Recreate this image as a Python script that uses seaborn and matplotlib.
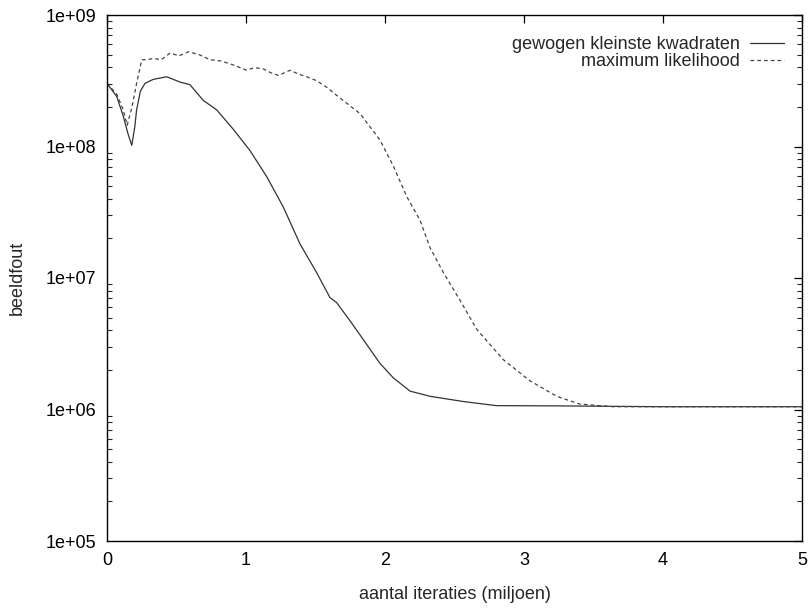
import numpy as np
import pandas as pd
import matplotlib
matplotlib.use("Agg")
import matplotlib.pyplot as plt
import matplotlib.ticker as mticker
import seaborn as sns

# --- data ---
x_wls = [0, 0.07, 0.117, 0.15, 0.178, 0.20, 0.213, 0.24, 0.273, 0.333, 0.43, 0.525,
         0.597, 0.693, 0.789, 0.909, 1.029, 1.149, 1.268, 1.388, 1.508, 1.604, 1.652,
         1.75, 1.844, 1.964, 2.06, 2.18, 2.324, 2.563, 2.80, 3.26, 4.0, 5.0]
y_wls = [3.02e8, 2.4e8, 1.7e8, 1.26e8, 1.02e8, 1.41e8, 1.9e8, 2.63e8, 3.02e8, 3.24e8,
         3.39e8, 3.09e8, 2.95e8, 2.24e8, 1.9e8, 1.35e8, 9.3e7, 5.9e7, 3.47e7, 1.82e7,
         1.1e7, 7.1e6, 6.5e6, 4.7e6, 3.4e6, 2.24e6, 1.74e6, 1.38e6, 1.26e6, 1.15e6,
         1.07e6, 1.065e6, 1.05e6, 1.05e6]

x_ml = [0, 0.07, 0.117, 0.145, 0.18, 0.213, 0.25, 0.29, 0.333, 0.39, 0.453, 0.52,
        0.585, 0.66, 0.741, 0.82, 0.909, 1.005, 1.06, 1.125, 1.18, 1.233, 1.317, 1.38,
        1.437, 1.51, 1.58, 1.676, 1.82, 1.964, 2.06, 2.156, 2.252, 2.324, 2.42, 2.54,
        2.66, 2.85, 3.04, 3.235, 3.40, 3.64, 4.0, 5.0]
y_ml = [3.02e8, 2.5e8, 1.9e8, 1.45e8, 2.0e8, 3.02e8, 4.57e8, 4.57e8, 4.68e8, 4.57e8,
        5.13e8, 4.9e8, 5.25e8, 5.01e8, 4.57e8, 4.47e8, 4.17e8, 3.8e8, 3.98e8, 3.89e8,
        3.63e8, 3.47e8, 3.8e8, 3.55e8, 3.39e8, 3.16e8, 2.82e8, 2.34e8, 1.78e8, 1.12e8,
        7.1e7, 4.17e7, 2.75e7, 1.7e7, 1.1e7, 6.76e6, 4.07e6, 2.4e6, 1.66e6, 1.26e6,
        1.1e6, 1.05e6, 1.05e6, 1.05e6]

label_wls = "gewogen kleinste kwadraten"
label_ml = "maximum likelihood"
x_label = "aantal iteraties (miljoen)"
y_label = "beeldfout"

df_wls = pd.DataFrame({"x": x_wls, "y": y_wls})
df_ml = pd.DataFrame({"x": x_ml, "y": y_ml})

sns.set_style("white")
plt.rcParams["font.family"] = ["Liberation Sans", "DejaVu Sans"]
plt.rcParams["font.size"] = 13

fig = plt.figure(figsize=(8.08, 6.11), dpi=100)
ax = fig.add_axes([107 / 808, 70 / 611, 695 / 808, 526 / 611])

sns.lineplot(data=df_wls, x="x", y="y", ax=ax, color="#333333", lw=0.9,
             label=label_wls, estimator=None, sort=False)
sns.lineplot(data=df_ml, x="x", y="y", ax=ax, color="#444444", lw=0.9,
             linestyle=(0, (3.0, 2.4)), label=label_ml, estimator=None, sort=False)

ax.set_yscale("log")
ax.set_xlim(0, 5)
ax.set_ylim(1e5, 1e9)
ax.set_xticks([0, 1, 2, 3, 4, 5])
ax.xaxis.set_major_formatter(mticker.FormatStrFormatter("%d"))
ax.yaxis.set_major_locator(mticker.FixedLocator([1e5, 1e6, 1e7, 1e8, 1e9]))
ax.yaxis.set_major_formatter(mticker.FuncFormatter(
    lambda v, p: "1e+%02d" % int(round(np.log10(v)))))
ax.yaxis.set_minor_locator(mticker.LogLocator(base=10, subs=np.arange(2, 10), numticks=20))
ax.yaxis.set_minor_formatter(mticker.NullFormatter())

ax.tick_params(which="major", direction="in", length=6, width=0.9, top=True,
               right=True, labelsize=13, pad=8, colors="black")
ax.tick_params(which="minor", direction="in", length=3.5, width=0.8, top=False,
               right=True, left=True)
for s in ax.spines.values():
    s.set_visible(True)
    s.set_color("black")
    s.set_linewidth(1.0)

ax.set_xlabel(x_label, fontsize=13, labelpad=12)
ax.set_ylabel(y_label, fontsize=13, labelpad=14)

ax.legend(loc="upper right", frameon=False, markerfirst=False, fontsize=13,
          handlelength=1.9, handletextpad=0.55, labelspacing=0.0,
          borderaxespad=0.9, bbox_to_anchor=(1.008, 1.004))

fig.savefig("out.png", dpi=100)
